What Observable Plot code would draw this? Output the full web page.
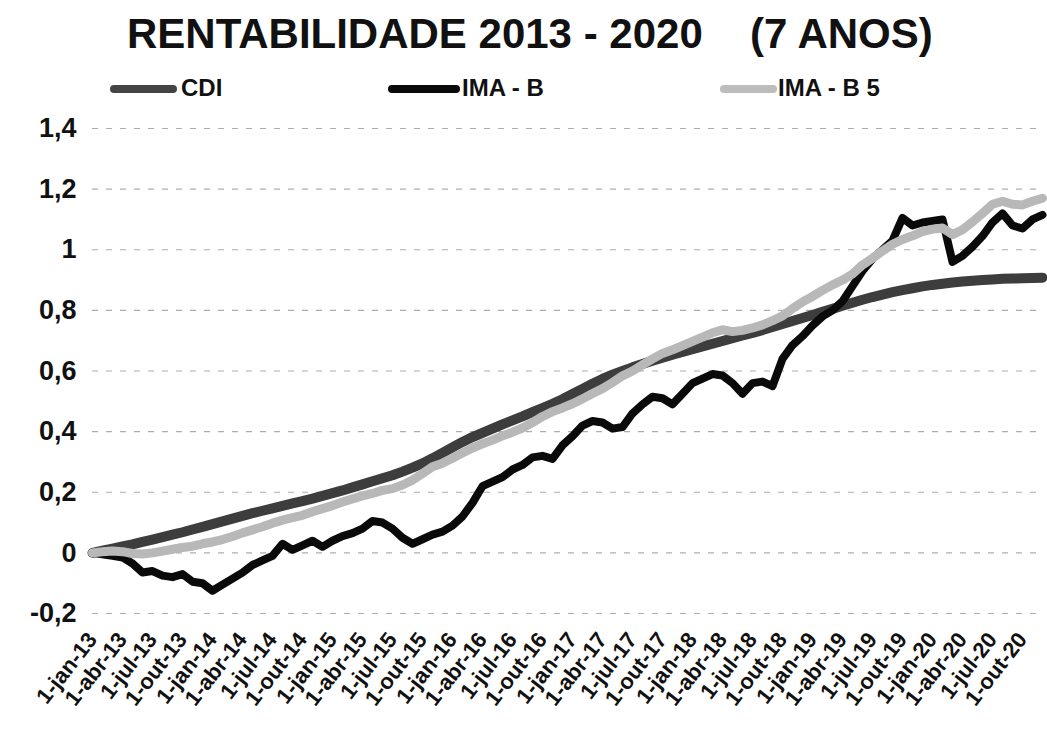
<!DOCTYPE html>
<html>
<head>
<meta charset="utf-8">
<script src="https://cdn.jsdelivr.net/npm/d3@7"></script>
<script src="https://cdn.jsdelivr.net/npm/@observablehq/plot@0.6"></script>
<style>
  html, body { margin: 0; padding: 0; background: #fff; overflow: hidden; }
  #header { position: relative; width: 1047px; height: 110px; font-family: "Liberation Sans", sans-serif; font-weight: bold; color: #111; }
  .t { position: absolute; font-size: 42px; white-space: nowrap; }
  .lg { position: absolute; font-size: 24px; white-space: nowrap; top: 74px; }
  .sw { position: absolute; height: 8px; top: 85px; border-radius: 4px; }
  #chart svg { display: block; }
</style>
</head>
<body>
<div id="header">
  <div class="t" style="left:127px; top:10px;">RENTABILIDADE 2013 - 2020</div>
  <div class="t" style="left:750px; top:10px;">(7 ANOS)</div>
  <div class="sw" style="left:110px; width:67px; background:#444;"></div>
  <div class="lg" style="left:181px;">CDI</div>
  <div class="sw" style="left:388px; width:72px; background:#0a0a0a;"></div>
  <div class="lg" style="left:462px;">IMA - B</div>
  <div class="sw" style="left:720px; width:57px; background:#bdbdbd;"></div>
  <div class="lg" style="left:778px;">IMA - B 5</div>
</div>
<div id="chart"></div>
<script>
const monthNames = ["jan","fev","mar","abr","mai","jun","jul","ago","set","out","nov","dez"];
const years = ["13","14","15","16","17","18","19","20"];
const monthLabels = years.flatMap(y => monthNames.map(m => `1-${m}-${y}`));
const tickLabels = monthLabels.filter((d, i) => i % 3 === 0);
const yTicks = [-0.2, 0, 0.2, 0.4, 0.6, 0.8, 1, 1.2, 1.4];

const cdi = [
  0.000, 0.007, 0.014, 0.021, 0.028, 0.036, 0.044, 0.052, 0.060, 0.068, 0.077, 0.086,
  0.095, 0.104, 0.113, 0.122, 0.131, 0.139, 0.147, 0.155, 0.163, 0.171, 0.179, 0.188,
  0.197, 0.206, 0.216, 0.226, 0.236, 0.246, 0.256, 0.268, 0.281, 0.295, 0.312, 0.330,
  0.348, 0.366, 0.382, 0.396, 0.410, 0.424, 0.437, 0.450, 0.464, 0.478, 0.492, 0.507,
  0.524, 0.541, 0.558, 0.574, 0.588, 0.600, 0.612, 0.623, 0.634, 0.644, 0.654, 0.663,
  0.672, 0.681, 0.690, 0.699, 0.708, 0.717, 0.726, 0.735, 0.745, 0.755, 0.765, 0.775,
  0.785, 0.795, 0.805, 0.815, 0.825, 0.835, 0.844, 0.852, 0.860, 0.867, 0.873, 0.879,
  0.884, 0.888, 0.892, 0.895, 0.898, 0.900, 0.902, 0.904, 0.905, 0.906, 0.907, 0.908
];
const imaB = [
  0.000, -0.005, -0.010, -0.015, -0.035, -0.065, -0.060, -0.075, -0.080, -0.070, -0.095, -0.100,
  -0.125, -0.105, -0.085, -0.065, -0.040, -0.025, -0.010, 0.030, 0.010, 0.025, 0.040, 0.020,
  0.040, 0.055, 0.065, 0.080, 0.105, 0.100, 0.080, 0.050, 0.030, 0.045, 0.060, 0.070,
  0.090, 0.120, 0.165, 0.220, 0.235, 0.250, 0.275, 0.290, 0.315, 0.320, 0.310, 0.355,
  0.385, 0.420, 0.435, 0.430, 0.410, 0.415, 0.460, 0.490, 0.515, 0.510, 0.490, 0.525,
  0.560, 0.575, 0.590, 0.585, 0.560, 0.525, 0.560, 0.565, 0.550, 0.640, 0.685, 0.715,
  0.750, 0.780, 0.800, 0.830, 0.880, 0.930, 0.970, 1.000, 1.030, 1.105, 1.080, 1.090,
  1.095, 1.100, 0.960, 0.980, 1.010, 1.045, 1.090, 1.120, 1.080, 1.070, 1.100, 1.115
];
const imaB5 = [
  0.000, 0.004, 0.006, 0.004, -0.002, -0.004, 0.000, 0.006, 0.012, 0.018, 0.022, 0.030,
  0.036, 0.044, 0.054, 0.066, 0.076, 0.086, 0.098, 0.108, 0.116, 0.124, 0.136, 0.146,
  0.156, 0.168, 0.178, 0.188, 0.196, 0.206, 0.212, 0.224, 0.240, 0.262, 0.284, 0.296,
  0.312, 0.330, 0.346, 0.360, 0.372, 0.386, 0.398, 0.412, 0.430, 0.450, 0.466, 0.478,
  0.492, 0.508, 0.526, 0.542, 0.562, 0.584, 0.600, 0.620, 0.640, 0.658, 0.670, 0.684,
  0.698, 0.712, 0.726, 0.736, 0.730, 0.734, 0.742, 0.752, 0.766, 0.782, 0.806, 0.828,
  0.846, 0.866, 0.884, 0.900, 0.920, 0.950, 0.972, 0.996, 1.018, 1.034, 1.046, 1.060,
  1.068, 1.072, 1.050, 1.066, 1.092, 1.120, 1.150, 1.160, 1.150, 1.148, 1.160, 1.170
];

const rows = (vals) => monthLabels.map((m, i) => ({month: m, value: vals[i]}));
const fmt = v => String(Math.round(v * 10) / 10).replace(".", ",");

const chart = Plot.plot({
  width: 1047,
  height: 623,
  marginLeft: 92,
  marginRight: 5,
  marginTop: 18,
  marginBottom: 120,
  style: {fontFamily: "'Liberation Sans', sans-serif", color: "#111", background: "#fff"},
  x: {type: "point", domain: monthLabels, padding: 0},
  y: {domain: [-0.2, 1.4]},
  marks: [
    Plot.ruleY(yTicks, {stroke: "#999", strokeWidth: 1.1, strokeDasharray: "6,8", strokeOpacity: 0.8}),
    Plot.line(rows(cdi), {x: "month", y: "value", stroke: "#3d3d3d", strokeWidth: 10, strokeLinejoin: "round", strokeLinecap: "round"}),
    Plot.line(rows(imaB), {x: "month", y: "value", stroke: "#0a0a0a", strokeWidth: 8, strokeLinejoin: "round", strokeLinecap: "round"}),
    Plot.line(rows(imaB5), {x: "month", y: "value", stroke: "#b8b8b8", strokeWidth: 9, strokeLinejoin: "round", strokeLinecap: "round"}),
    Plot.axisY({ticks: yTicks, tickFormat: fmt, tickSize: 0, tickPadding: 16, fontSize: 27, fontWeight: "bold", label: null}),
    Plot.axisX({ticks: tickLabels, tickRotate: -52, tickSize: 0, tickPadding: 22, fontSize: 22, fontWeight: "bold", label: null})
  ]
});
document.getElementById("chart").appendChild(chart);
</script>
</body>
</html>
